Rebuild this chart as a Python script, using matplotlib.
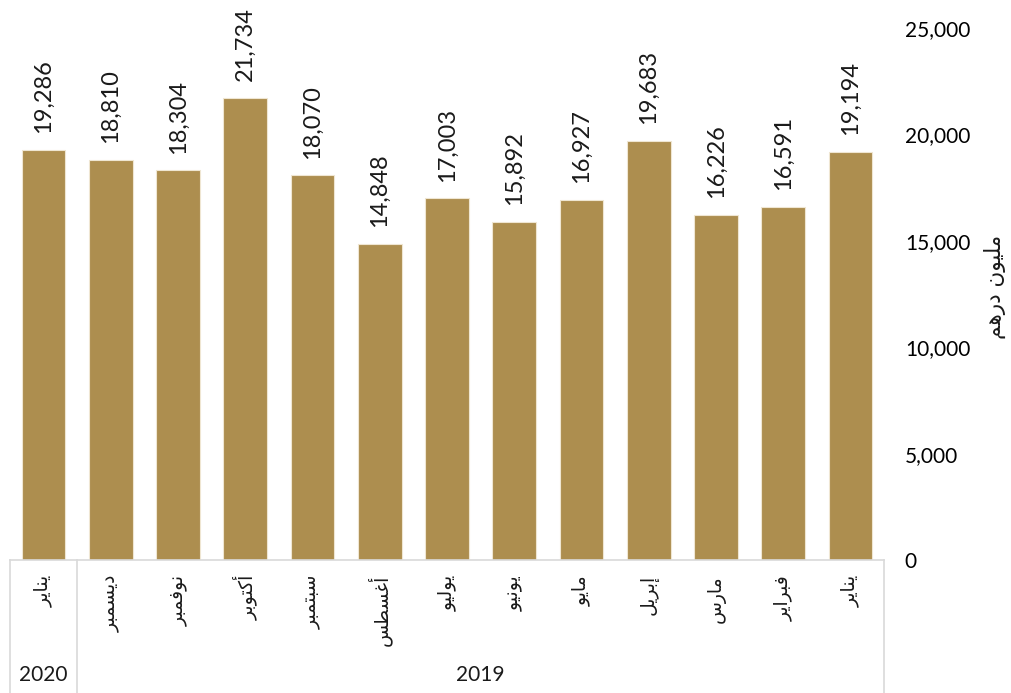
import matplotlib
matplotlib.use("Agg")
import matplotlib.pyplot as plt
import matplotlib.transforms as mtransforms

# ---- data (chronological order; axis is drawn right-to-left) ----
months = ["يناير", "فبراير", "مارس", "إبريل", "مايو", "يونيو", "يوليو",
          "أغسطس", "سبتمبر", "أكتوبر", "نوفمبر", "ديسمبر", "يناير"]
years = ["2019"] * 12 + ["2020"]
values = [19194, 16591, 16226, 19683, 16927, 15892, 17003,
          14848, 18070, 21734, 18304, 18810, 19286]
y_ticks = [0, 5000, 10000, 15000, 20000, 25000]
y_label = "مليون درهم"

BAR = "#AD8E4F"

# ---- minimal Arabic shaping for display ----
F = {
    'ا': ('\uFE8D', '\uFE8E', None, None),
    'أ': ('\uFE83', '\uFE84', None, None),
    'إ': ('\uFE87', '\uFE88', None, None),
    'د': ('\uFEA9', '\uFEAA', None, None),
    'ر': ('\uFEAD', '\uFEAE', None, None),
    'و': ('\uFEED', '\uFEEE', None, None),
    'ب': ('\uFE8F', '\uFE90', '\uFE91', '\uFE92'),
    'ت': ('\uFE95', '\uFE96', '\uFE97', '\uFE98'),
    'س': ('\uFEB1', '\uFEB2', '\uFEB3', '\uFEB4'),
    'ص': ('\uFEB9', '\uFEBA', '\uFEBB', '\uFEBC'),
    'ط': ('\uFEC1', '\uFEC2', '\uFEC3', '\uFEC4'),
    'غ': ('\uFECD', '\uFECE', '\uFECF', '\uFED0'),
    'ف': ('\uFED1', '\uFED2', '\uFED3', '\uFED4'),
    'ك': ('\uFED9', '\uFEDA', '\uFEDB', '\uFEDC'),
    'ل': ('\uFEDD', '\uFEDE', '\uFEDF', '\uFEE0'),
    'م': ('\uFEE1', '\uFEE2', '\uFEE3', '\uFEE4'),
    'ن': ('\uFEE5', '\uFEE6', '\uFEE7', '\uFEE8'),
    'ه': ('\uFEE9', '\uFEEA', '\uFEEB', '\uFEEC'),
    'ي': ('\uFEF1', '\uFEF2', '\uFEF3', '\uFEF4'),
}


def shape(s):
    out = []
    for i, c in enumerate(s):
        if c not in F:
            out.append(c)
            continue
        prev = s[i - 1] if i > 0 else None
        nxt = s[i + 1] if i + 1 < len(s) else None
        jp = prev in F and F[prev][2] is not None
        jn = nxt in F and F[c][2] is not None
        iso, fin, ini, med = F[c]
        if jp and jn:
            out.append(med)
        elif jp:
            out.append(fin)
        elif jn:
            out.append(ini)
        else:
            out.append(iso)
    return "".join(reversed(out))


NUMFONT = ["Lato", "DejaVu Sans"]
ARFONT = ["DejaVu Sans"]

fig = plt.figure(figsize=(10.11, 6.93), dpi=100)
W, H = 1011, 693
ax_l, ax_r, ax_t, ax_b = 10, 884, 28, 560
ax = fig.add_axes([ax_l / W, 1 - ax_b / H, (ax_r - ax_l) / W, (ax_b - ax_t) / H])
ax_h = ax_b - ax_t

n = len(values)
x = list(range(n))
ax.bar(x, values, width=0.65, color=BAR, edgecolor="#efe6d2", linewidth=0.8, zorder=2)
ax.set_xlim(n - 0.5, -0.5)
ax.set_ylim(0, 25000)

for s in ["top", "left", "right"]:
    ax.spines[s].set_visible(False)
ax.spines["bottom"].set_color("#d9d9d9")
ax.spines["bottom"].set_linewidth(1.2)

ax.set_xticks([])
ax.yaxis.tick_right()
ax.set_yticks(y_ticks)
ax.set_yticklabels([f"{v:,}" for v in y_ticks], fontfamily=NUMFONT, fontsize=15)
ax.tick_params(axis="y", length=0, pad=15)

# value labels
for xi, v in zip(x, values):
    ax.annotate(f"{v:,}", (xi, v), xytext=(0, 12), textcoords="offset points",
                rotation=90, ha="center", va="bottom", fontsize=17,
                fontfamily=NUMFONT, color="#1a1a1a")

trans = mtransforms.blended_transform_factory(ax.transData, ax.transAxes)

# month labels
for xi, m in zip(x, months):
    ax.text(xi, -15 / ax_h, shape(m), transform=trans, rotation=90,
            ha="center", va="top", fontsize=13.5, fontfamily=ARFONT, color="#1a1a1a")

# year groups and separators
groups = []
for i, yv in enumerate(years):
    if groups and groups[-1][0] == yv:
        groups[-1][2] = i
    else:
        groups.append([yv, i, i])
bottom = -(H - ax_b) / ax_h
bounds = set()
for yv, i0, i1 in groups:
    lo, hi = i0 - 0.5, i1 + 0.5
    bounds.update([lo, hi])
    ax.text((lo + hi) / 2, -115 / ax_h, yv, transform=trans, ha="center",
            va="center", fontsize=15, fontfamily=NUMFONT, color="#1a1a1a")
for b in bounds:
    ax.plot([b, b], [0, bottom], transform=trans, color="#d9d9d9",
            linewidth=1.2, clip_on=False)

fig.text(995 / W, 1 - 287 / H, shape(y_label), rotation=90, ha="center",
         va="center", fontsize=15.5, fontfamily=ARFONT, color="#1a1a1a")

fig.savefig("out.png", dpi=100, facecolor="white")
